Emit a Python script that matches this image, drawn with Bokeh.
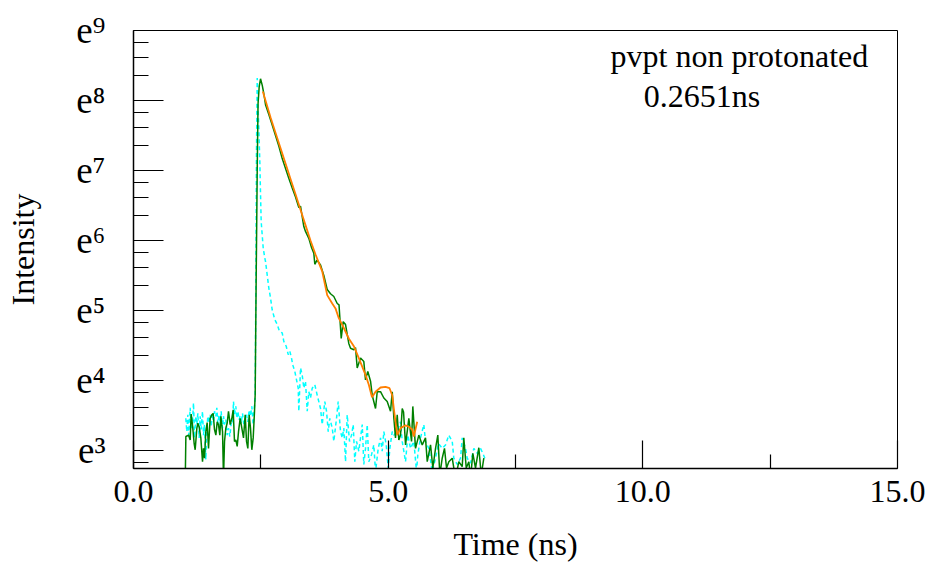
import numpy as np
from bokeh.plotting import figure
from bokeh.models import Range1d, FixedTicker, Label
from bokeh.embed import file_html
from bokeh.resources import INLINE

# ---------------- data (time in ns, natural log of intensity) ----------------
decay_t = [1.015, 1.028, 1.080, 1.113, 1.132, 1.158, 1.191, 1.211, 1.244, 1.263, 1.289, 1.322, 1.355, 1.374,
           1.394, 1.420, 1.446, 1.473, 1.505, 1.538, 1.564, 1.590, 1.617, 1.643, 1.669, 1.695, 1.715, 1.748,
           1.767, 1.787, 1.813, 1.839, 1.865, 1.898, 1.931, 1.957, 1.983, 2.009, 2.036, 2.062, 2.094, 2.127,
           2.160, 2.193, 2.219, 2.245, 2.271, 2.297, 2.323, 2.350, 2.376,
           2.389, 2.409, 2.429, 2.445, 2.468, 2.494, 2.527, 2.558, 2.592, 2.657, 2.723, 2.788, 2.853, 2.920,
           2.985, 3.049, 3.116, 3.181, 3.246, 3.279, 3.344, 3.377, 3.442, 3.495, 3.540, 3.560, 3.603, 3.672,
           3.737, 3.803, 3.868, 3.933, 4.000, 4.035, 4.078, 4.117, 4.163, 4.227, 4.261, 4.326, 4.359, 4.392,
           4.457, 4.522, 4.555, 4.600, 4.654, 4.687, 4.752, 4.785, 4.850, 4.915, 4.981, 5.046, 5.080, 5.112,
           5.144, 5.178, 5.209, 5.243, 5.276, 5.302, 5.341, 5.406, 5.459, 5.484, 5.537, 5.602, 5.669, 5.733,
           5.767, 5.832, 5.877, 5.930, 5.975, 6.014, 6.061, 6.106, 6.146, 6.191, 6.258, 6.322, 6.387, 6.454,
           6.485, 6.533, 6.584, 6.617, 6.662, 6.715, 6.780, 6.827, 6.878]
decay_ln = [2.50, 3.20, 3.22, 3.15, 3.52, 3.37, 3.10, 3.01, 3.32, 3.39, 3.34, 3.18, 2.84, 3.03,
            2.89, 3.27, 3.40, 3.03, 3.46, 3.51, 3.53, 3.30, 3.22, 3.41, 3.37, 3.22, 3.49, 3.27,
            2.60, 3.13, 3.32, 3.39, 3.56, 3.37, 3.46, 3.58, 3.13, 3.15, 3.06, 3.27, 3.46, 3.32,
            3.18, 3.51, 3.13, 3.03, 3.51, 3.32, 3.01, 3.18, 3.56,
            3.80, 5.50, 7.00, 7.95, 8.20, 8.31, 8.22, 8.10, 7.94, 7.80, 7.65, 7.50, 7.35, 7.17,
            7.03, 6.89, 6.75, 6.62, 6.47, 6.49, 6.20, 6.13, 6.03, 5.90, 5.82, 5.66, 5.72, 5.65,
            5.50, 5.30, 5.24, 5.20, 5.10, 5.08, 4.60, 4.84, 4.80, 4.53, 4.46, 4.44, 4.47, 4.18,
            4.32, 4.27, 4.01, 4.13, 3.99, 3.79, 3.60, 3.84, 3.84, 3.75, 3.70, 3.56, 3.84, 3.46,
            3.18, 3.51, 3.15, 3.22, 3.60, 3.55, 3.08, 3.46, 3.13, 3.63, 3.03, 3.22, 3.08, 3.18,
            2.84, 3.08, 2.75, 3.03, 3.22, 2.65, 2.89, 3.03, 2.75, 2.84, 2.89, 2.60, 2.84, 2.77,
            3.18, 2.75, 2.84, 2.60, 2.96, 2.75, 3.04, 2.65, 2.89]

irf_t = [1.027, 1.047, 1.067, 1.086, 1.113, 1.132, 1.158, 1.178, 1.198, 1.224, 1.244, 1.263, 1.289, 1.309,
         1.329, 1.355, 1.374, 1.394, 1.420, 1.440, 1.460, 1.486, 1.505, 1.525, 1.551, 1.571, 1.590, 1.617,
         1.636, 1.656, 1.682, 1.702, 1.721, 1.747, 1.767, 1.787, 1.813, 1.839, 1.865, 1.891, 1.918, 1.944,
         1.963, 1.983, 2.009, 2.029, 2.049, 2.075, 2.094, 2.114, 2.140, 2.166, 2.193, 2.219, 2.245, 2.271,
         2.297, 2.323, 2.350, 2.369, 2.389,
         2.401, 2.415, 2.429, 2.441, 2.460, 2.480, 2.494, 2.507, 2.547, 2.578, 2.592, 2.625, 2.657, 2.690,
         2.723, 2.774, 2.822, 2.867, 2.920, 2.951, 2.998, 3.038, 3.069, 3.102, 3.128, 3.167, 3.195, 3.234,
         3.246, 3.279, 3.312, 3.344, 3.377, 3.411, 3.442, 3.475, 3.509, 3.560, 3.607, 3.672, 3.705, 3.756,
         3.790, 3.823, 3.854, 3.902, 3.933, 3.986, 4.019, 4.064, 4.098, 4.129, 4.163, 4.196, 4.241, 4.281,
         4.314, 4.345, 4.379, 4.424, 4.457, 4.491, 4.522, 4.555, 4.589, 4.620, 4.673, 4.718, 4.752, 4.805,
         4.850, 4.883, 4.915, 4.962, 5.001, 5.033, 5.080, 5.111, 5.178, 5.243, 5.276, 5.341, 5.386, 5.439,
         5.504, 5.557, 5.582, 5.635, 5.700, 5.733, 5.798, 5.865, 5.930, 5.989, 6.061, 6.126, 6.191, 6.258,
         6.289, 6.356, 6.421, 6.454, 6.519, 6.552, 6.617, 6.682, 6.749, 6.813, 6.858, 6.898]
irf_ln = [3.46, 3.27, 3.51, 3.22, 3.61, 3.32, 3.41, 3.68, 3.18, 3.49, 3.37, 3.53, 3.18, 3.49,
          3.30, 3.56, 3.22, 3.37, 2.87, 3.32, 3.49, 3.39, 3.51, 3.34, 3.53, 3.41, 3.56, 3.49,
          3.61, 3.39, 3.51, 3.37, 3.56, 3.32, 3.49, 3.37, 3.44, 3.22, 3.32, 3.20, 3.39, 3.37,
          3.70, 3.51, 3.63, 3.46, 3.56, 3.44, 3.49, 3.39, 3.53, 3.37, 3.46, 3.51, 3.41, 3.58,
          3.49, 3.63, 3.37, 3.58, 3.77,
          5.20, 7.30, 8.32, 8.00, 7.60, 7.13, 6.66, 6.27, 5.89, 5.75, 5.70, 5.51, 5.32, 5.18,
          5.01, 4.87, 4.80, 4.70, 4.68, 4.56, 4.49, 4.37, 4.42, 4.32, 4.22, 4.13, 4.03, 3.89,
          3.56, 4.18, 4.08, 3.89, 3.99, 3.56, 3.84, 3.75, 3.89, 3.94, 3.79, 3.60, 3.37, 3.70,
          3.56, 3.27, 3.46, 3.32, 3.13, 3.46, 3.70, 3.27, 3.18, 3.32, 2.84, 3.51, 3.13, 3.22,
          3.37, 2.84, 3.13, 2.99, 3.18, 3.37, 2.80, 3.03, 3.37, 2.84, 2.94, 3.08, 2.70, 3.03,
          3.18, 2.99, 3.27, 3.08, 2.75, 3.03, 3.27, 3.22, 3.27, 3.41, 3.13, 2.84, 3.22, 3.03,
          3.13, 2.70, 2.94, 3.18, 3.37, 3.13, 3.03, 2.70, 2.89, 3.10, 3.03, 3.08, 3.22, 3.13,
          2.89, 2.80, 2.89, 3.18, 3.03, 2.89, 2.82, 3.03, 2.96, 3.03, 2.96, 2.89]

fit_t = [2.539, 2.592, 2.690, 2.788, 2.886, 2.985, 3.083, 3.181, 3.279, 3.377, 3.475, 3.574, 3.705,
         3.803, 3.902, 3.966, 4.031, 4.129, 4.227, 4.326, 4.424, 4.555, 4.620, 4.683, 4.752, 4.850,
         4.948, 5.027, 5.080, 5.111, 5.178, 5.243, 5.341, 5.406, 5.472, 5.504, 5.570]
fit_ln = [8.13, 8.00, 7.76, 7.54, 7.32, 7.10, 6.88, 6.66, 6.44, 6.22, 6.00, 5.80, 5.56,
          5.22, 5.10, 5.03, 4.89, 4.75, 4.60, 4.49, 4.32, 4.08, 3.94, 3.76, 3.84, 3.90,
          3.91, 3.89, 3.79, 3.60, 3.22, 3.32, 3.36, 3.34, 3.30, 3.20, 3.41]

x_ticks = [0.0, 5.0, 10.0, 15.0]
x_minor = [2.5, 7.5, 12.5]
y_powers = [3, 4, 5, 6, 7, 8, 9]
sup = {3: "\u00b3", 4: "\u2074", 5: "\u2075", 6: "\u2076", 7: "\u2077", 8: "\u2078", 9: "\u2079"}

legend_title = "pvpt non protonated"
lifetime_text = "0.2651ns"

# ---------------- figure ----------------
SERIF = "Liberation Serif"
p = figure(frame_width=764, frame_height=438, output_backend="svg", toolbar_location=None,
           x_range=Range1d(0, 15), y_range=Range1d(np.exp(2.743), np.exp(9.0)),
           y_axis_type="log", min_border_left=133, min_border_top=30,
           min_border_right=32, min_border_bottom=96)
p.background_fill_color = "white"
p.border_fill_color = "white"
p.outline_line_color = "black"
p.outline_line_width = 1
p.xgrid.visible = False
p.ygrid.visible = False

p.line(irf_t, np.exp(irf_ln), line_color="#00FFFF", line_width=1.5, line_dash="4 3")
p.line(decay_t, np.exp(decay_ln), line_color="#008000", line_width=1.5)
p.line(fit_t, np.exp(fit_ln), line_color="#FF7F00", line_width=1.8)

# x axis
xa = p.xaxis[0]
xa.ticker = FixedTicker(ticks=x_ticks, minor_ticks=x_minor)
xa.major_label_overrides = {v: f"{v:.1f}" for v in x_ticks}
xa.axis_label = "Time (ns)"
# y axis
ya = p.yaxis[0]
y_major = [float(np.exp(k)) for k in y_powers]
y_minor = []
for k in range(2, 9):
    lo, hi = np.exp(k), np.exp(k + 1)
    for j in (1, 2, 3):
        y_minor.append(float(lo + j * (hi - lo) / 4))
ya.ticker = FixedTicker(ticks=y_major, minor_ticks=y_minor)
ya.major_label_overrides = {float(np.exp(k)): "e" + sup[k] for k in y_powers}
ya.axis_label = "Intensity"

for ax in (xa, ya):
    ax.axis_line_color = "black"
    ax.axis_line_width = 1.5
    ax.major_tick_line_color = "black"
    ax.minor_tick_line_color = "black"
    ax.major_tick_out = 0
    ax.minor_tick_out = 0
    ax.major_tick_line_width = 1.2
    ax.minor_tick_line_width = 1.2
    ax.axis_label_text_font = SERIF
    ax.axis_label_text_font_style = "normal"
    ax.axis_label_text_font_size = "32px"
    ax.axis_label_text_color = "black"
    ax.major_label_text_font = SERIF
    ax.major_label_text_color = "black"

xa.major_tick_in = 28
xa.minor_tick_in = 14
xa.major_label_text_font_size = "32px"
xa.major_label_standoff = 12
xa.axis_label_standoff = 21

ya.major_tick_in = 30
ya.minor_tick_in = 15
ya.major_label_text_font_size = "37px"
ya.major_label_standoff = 28
ya.axis_label_standoff = 32

p.add_layout(Label(x=9.366, y=float(np.exp(8.63)), text=legend_title, text_font=SERIF,
                   text_font_size="32px", text_baseline="alphabetic", text_color="black"))
p.add_layout(Label(x=10.02, y=float(np.exp(8.06)), text=lifetime_text, text_font=SERIF,
                   text_font_size="32px", text_baseline="alphabetic", text_color="black"))

open("out.html", "w").write(file_html(p, INLINE))
